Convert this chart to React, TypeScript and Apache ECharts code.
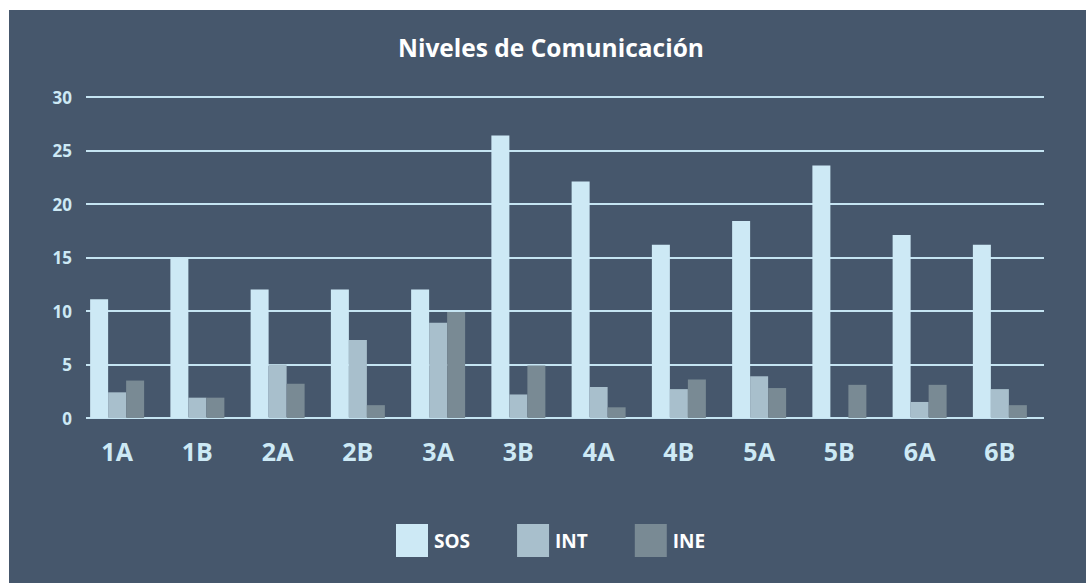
import React, { useEffect, useRef } from "react";
import * as echarts from "echarts";

const categories = ["1A", "1B", "2A", "2B", "3A", "3B", "4A", "4B", "5A", "5B", "6A", "6B"];
const sosValues = [11.1, 15.0, 12.0, 12.0, 12.0, 26.4, 22.1, 16.2, 18.4, 23.6, 17.1, 16.2];
const intValues = [2.4, 1.9, 5.0, 7.3, 8.9, 2.2, 2.9, 2.7, 3.9, 0, 1.5, 2.7];
const ineValues = [3.5, 1.9, 3.2, 1.2, 9.9, 4.9, 1.0, 3.6, 2.8, 3.1, 3.1, 1.2];
const seriesNames = ["SOS", "INT", "INE"];
const seriesColors = ["#cde9f5", "#a8bfcc", "#798a94"];

const FONT = "'Open Sans', 'Noto Sans', sans-serif";

export default function App() {
  const ref = useRef<HTMLDivElement>(null);
  useEffect(() => {
    if (!ref.current) return;
    const chart = echarts.init(ref.current, undefined, { renderer: "svg" });
    const data = [sosValues, intValues, ineValues];
    chart.setOption({
      animation: false,
      backgroundColor: "#46576c",
      title: {
        text: "Niveles de Comunicación",
        left: 384,
        top: 20,
        textStyle: { color: "#ffffff", fontSize: 24.5, fontWeight: "bold", fontFamily: FONT },
      },
      legend: {
        data: seriesNames,
        left: 382,
        top: 509,
        itemWidth: 32,
        itemHeight: 33,
        itemGap: 47,
        icon: "rect",
        textStyle: { color: "#ffffff", fontSize: 19, fontWeight: "bold", fontFamily: FONT, padding: [0, 0, 0, 1] },
      },
      grid: [
        { left: 77, width: 958, top: 87, height: 321 },
        { left: 68, width: 963, top: 87, height: 321 },
      ],
      xAxis: [
        { type: "value", gridIndex: 0, min: 0, max: 1, show: false },
        {
          type: "category",
          gridIndex: 1,
          data: categories,
          axisLine: { show: false },
          axisTick: { show: false },
          axisLabel: {
            color: "#cde9f5",
            fontSize: 25,
            fontWeight: "bold",
            fontFamily: FONT,
            margin: 20,
          },
        },
      ],
      yAxis: [
        {
          type: "value",
          gridIndex: 0,
          min: 0,
          max: 30,
          interval: 5,
          axisLine: { show: false },
          axisTick: { show: false },
          splitLine: { show: true, lineStyle: { color: "#c5e4f2", width: 2 } },
          axisLabel: {
            color: "#cde9f5",
            fontSize: 17,
            fontWeight: "bold",
            fontFamily: FONT,
            margin: 14,
          },
        },
        {
          type: "value",
          gridIndex: 1,
          min: 0,
          max: 30,
          interval: 5,
          show: false,
          splitLine: { show: false },
        },
      ],
      series: seriesNames.map((name, i) => ({
        name,
        type: "bar",
        xAxisIndex: 1,
        yAxisIndex: 1,
        data: data[i],
        barWidth: 18,
        barGap: "0%",
        itemStyle: { color: seriesColors[i] },
      })),
    });
    return () => chart.dispose();
  }, []);
  return (
    <div
      ref={ref}
      style={{ position: "absolute", left: 9, top: 10, width: 1077, height: 573 }}
    />
  );
}
